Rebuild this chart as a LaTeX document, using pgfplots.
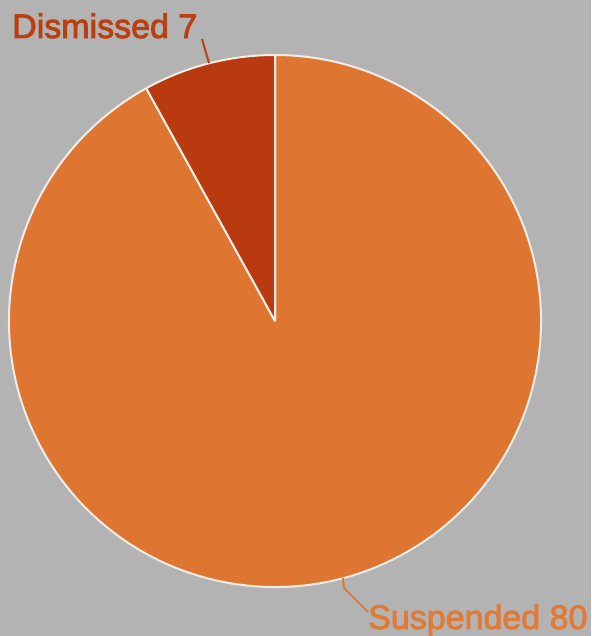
\documentclass[border=0pt]{standalone}
\usepackage{pgfplots}
\usepackage{pgfplotstable}
\pgfplotsset{compat=1.18}
\usepackage{fontspec}
\setmainfont[FakeBold=2.5]{Liberation Sans}
\definecolor{bg}{HTML}{B3B3B3}
\definecolor{susp}{HTML}{DE7631}
\definecolor{dism}{HTML}{B93A0E}
\definecolor{edge}{HTML}{F2ECE6}
\definecolor{susptxt}{HTML}{E07A35}
\definecolor{dismtxt}{HTML}{B93F10}
\pgfplotstableread{
label value
Dismissed 7
Suspended 80
}\piedata
\begin{document}
\begin{tikzpicture}
\pgfplotstablegetelem{0}{value}\of\piedata \let\vD\pgfplotsretval
\pgfplotstablegetelem{1}{value}\of\piedata \let\vS\pgfplotsretval
\pgfmathsetmacro{\aD}{90+360*\vD/(\vD+\vS)}
\begin{axis}[
  scale only axis, width=591pt, height=636pt,
  xmin=0, xmax=591, ymin=0, ymax=636,
  hide axis, clip=false,
]
\fill[bg] (axis cs:0,0) rectangle (axis cs:591,636);
\filldraw[fill=susp, draw=edge, line width=2pt, line join=round]
  (axis cs:275,315) -- ++(\aD:266pt) arc[start angle=\aD, end angle=450, radius=266pt] -- cycle;
\filldraw[fill=dism, draw=edge, line width=2pt, line join=round]
  (axis cs:275,315) -- ++(90:266pt) arc[start angle=90, end angle=\aD, radius=266pt] -- cycle;
\draw[dismtxt, line width=2pt] (axis cs:202,597) -- (axis cs:209,573);
\draw[susptxt, line width=2pt] (axis cs:343,58) -- (axis cs:344,48) -- (axis cs:368,24);
\node[anchor=base west, inner sep=0, text=dismtxt, font=\fontsize{34}{40}\selectfont] at (axis cs:12,598) {Dismissed \vD};
\node[anchor=base west, inner sep=0, text=susptxt, font=\fontsize{34}{40}\selectfont] at (axis cs:368,7) {Suspended \vS};
\end{axis}
\pgfresetboundingbox
\useasboundingbox (current axis.south west) rectangle (current axis.north east);
\end{tikzpicture}
\end{document}
